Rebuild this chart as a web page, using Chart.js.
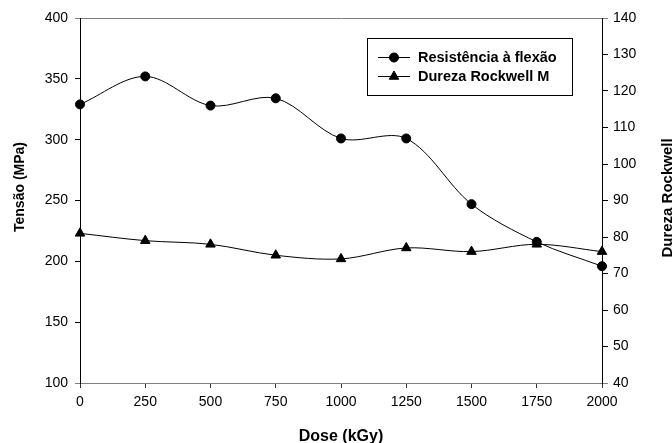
<!DOCTYPE html>
<html>
<head>
<meta charset="utf-8">
<script src="https://cdn.jsdelivr.net/npm/chart.js@4/dist/chart.umd.min.js"></script>
<style>
  html, body { margin: 0; padding: 0; background: #fff; overflow: hidden; }
  #wrap { width: 672px; height: 443px; position: relative; }
</style>
</head>
<body>
<div id="wrap"><canvas id="chart"></canvas></div>
<script>
const doses = [0, 250, 500, 750, 1000, 1250, 1500, 1750, 2000];
const resistencia = [329, 352, 328, 334, 301, 301, 247, 216, 196];
const dureza = [81, 79, 78, 75, 74, 77, 76, 78, 76];
const xTicks = [0, 250, 500, 750, 1000, 1250, 1500, 1750, 2000];

const xTitle = "Dose (kGy)";
const yTitle = "Tensão (MPa)";
const y1Title = "Dureza Rockwell";

const gray = "#808080";
const font = "Arial, 'Liberation Sans', sans-serif";

// legend box + vertical titles drawn on the canvas
const extras = {
  id: "extras",
  afterDraw(chart) {
    const ctx = chart.ctx;
    ctx.save();
    ctx.fillStyle = "#000";
    ctx.font = "bold 14px " + font;
    ctx.textAlign = "center";
    ctx.textBaseline = "middle";
    ctx.translate(20, 187);
    ctx.rotate(-Math.PI / 2);
    ctx.fillText(yTitle, 0, 0);
    ctx.restore();

    ctx.save();
    ctx.fillStyle = "#000";
    ctx.font = "bold 15px " + font;
    ctx.textAlign = "center";
    ctx.textBaseline = "middle";
    ctx.translate(668, 198);
    ctx.rotate(-Math.PI / 2);
    ctx.fillText(y1Title, 0, 0);
    ctx.restore();

    // legend
    ctx.save();
    ctx.strokeStyle = "#000";
    ctx.lineWidth = 1;
    ctx.strokeRect(367.5, 38.5, 205, 57);
    ctx.font = "bold 14.5px " + font;
    ctx.textAlign = "left";
    ctx.textBaseline = "middle";
    chart.data.datasets.forEach((ds, i) => {
      const y = 57.5 + i * 19;
      ctx.beginPath();
      ctx.moveTo(378, y);
      ctx.lineTo(410, y);
      ctx.strokeStyle = "#000";
      ctx.stroke();
      Chart.helpers.drawPoint(ctx, {
        pointStyle: ds.pointStyle,
        radius: ds.pointRadius,
        borderWidth: 1,
        rotation: 0
      }, 394, y);
      ctx.fillStyle = "#000";
      ctx.fillText(ds.label, 418, y);
    });
    ctx.restore();
  }
};

new Chart(document.getElementById("chart"), {
  type: "line",
  data: {
    datasets: [
      {
        label: "Resistência à flexão",
        data: doses.map((d, i) => ({ x: d, y: resistencia[i] })),
        yAxisID: "y",
        borderColor: "#000",
        backgroundColor: "#000",
        borderWidth: 1,
        pointStyle: "circle",
        pointRadius: 4.5,
        tension: 0.33,
        clip: false,
      },
      {
        label: "Dureza Rockwell M",
        data: doses.map((d, i) => ({ x: d, y: dureza[i] })),
        yAxisID: "y1",
        borderColor: "#000",
        backgroundColor: "#000",
        borderWidth: 1,
        pointStyle: "triangle",
        pointRadius: 5.5,
        tension: 0.33,
        clip: false,
      },
    ],
  },
  options: {
    responsive: true,
    maintainAspectRatio: false,
    animation: false,
    layout: { padding: { top: 18, left: 0, right: 0, bottom: 0 } },
    plugins: {
      legend: { display: false },
      tooltip: { enabled: false },
    },
    scales: {
      x: {
        type: "linear",
        min: 0,
        max: 2000,
        afterBuildTicks: (s) => { s.ticks = xTicks.map((v) => ({ value: v })); },
        afterFit: (s) => { s.height = 60; },
        border: { color: gray, width: 1 },
        grid: { drawOnChartArea: false, tickLength: 5, color: "#333" },
        ticks: {
          color: "#000",
          font: { size: 14, family: font },
          padding: 6,
          maxRotation: 0,
          callback: (v) => String(v),
        },
        title: { display: true, text: xTitle, color: "#000", font: { size: 16, weight: "bold", family: font }, padding: { top: 0, bottom: -3 } },
      },
      y: {
        position: "left",
        min: 100,
        max: 400,
        ticks: { stepSize: 50, color: "#000", font: { size: 14, family: font }, padding: 7 },
        afterFit: (s) => { s.width = 80; },
        border: { color: "#000", width: 1 },
        grid: {
          tickLength: 5,
          color: (c) => (c.tick && c.tick.value === 400 ? gray : "rgba(0,0,0,0)"),
          tickColor: (c) => (c.tick && (c.tick.value === 400 || c.tick.value === 100) ? gray : "#000"),
        },
      },
      y1: {
        position: "right",
        min: 40,
        max: 140,
        ticks: { stepSize: 10, color: "#000", font: { size: 14, family: font }, padding: 5 },
        afterFit: (s) => { s.width = 70; },
        border: { color: "#000", width: 1 },
        grid: {
          drawOnChartArea: false,
          tickLength: 6,
          tickColor: (c) => (c.tick && (c.tick.value === 140 || c.tick.value === 40) ? gray : "#000"),
        },
      },
    },
  },
  plugins: [extras],
});
</script>
</body>
</html>
